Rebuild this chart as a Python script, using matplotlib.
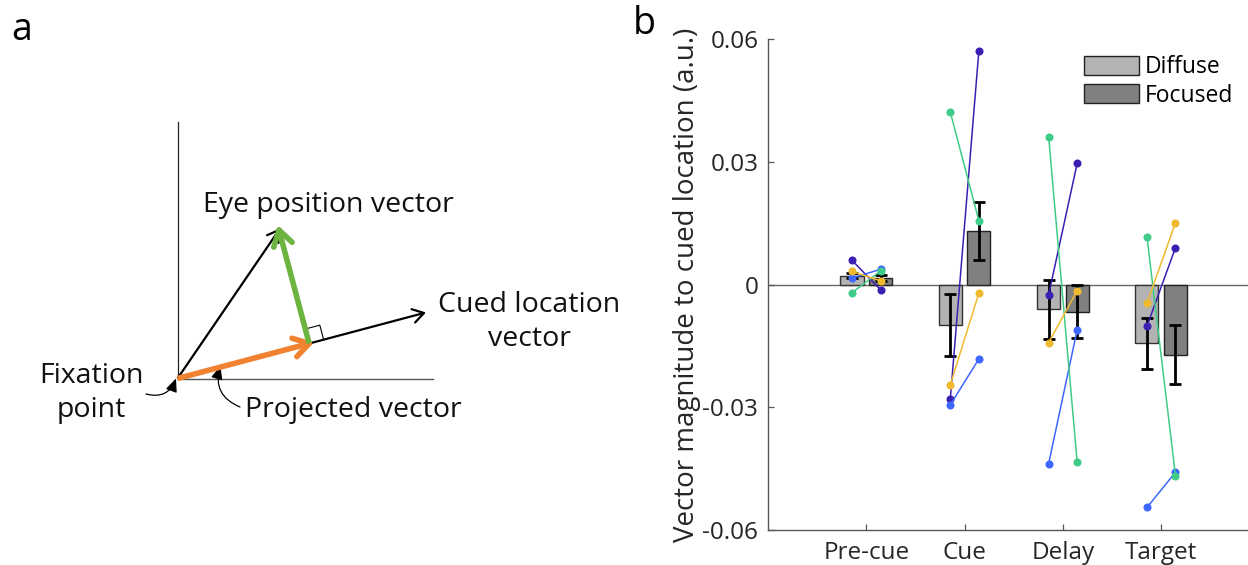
import numpy as np
import matplotlib
matplotlib.use("Agg")
import matplotlib.pyplot as plt
from matplotlib.patches import Patch

plt.rcParams['font.family'] = ['Open Sans', 'DejaVu Sans']
plt.rcParams['axes.unicode_minus'] = False

# ---------------- data ----------------
epochs = ["Pre-cue", "Cue", "Delay", "Target"]
conditions = ["Diffuse", "Focused"]

# per-subject vector magnitude (a.u.), one list per subject, epochs in order
subj_names = ["S1", "S2", "S3", "S4"]
subj_colors = ["#3b1fb3", "#3d67ff", "#3fcb88", "#f0ba2e"]
subj_diffuse = [
    [0.0059, -0.0279, -0.0025, -0.0102],
    [0.0016, -0.0294, -0.0438, -0.0545],
    [-0.0020, 0.0421, 0.0361, 0.0117],
    [0.0032, -0.0245, -0.0142, -0.0046],
]
subj_focused = [
    [-0.0013, 0.0571, 0.0296, 0.0090],
    [0.0037, -0.0182, -0.0111, -0.0459],
    [0.0033, 0.0156, -0.0434, -0.0467],
    [0.0009, -0.0021, -0.0015, 0.0151],
]
err_diffuse = [0.0007, 0.0075, 0.0072, 0.0062]
err_focused = [0.0007, 0.0070, 0.0065, 0.0073]

yticks = [-0.06, -0.03, 0, 0.03, 0.06]
ytick_labels = ["-0.06", "-0.03", "0", "0.03", "0.06"]

# schematic geometry (figure pixels, y downward)
origin_pt = (177.5, 378.5)
eye_tip = (279.0, 230.0)
cued_tip = (424.0, 313.0)
vert_axis_top = (177.5, 122.0)
horiz_axis_end = (433.0, 378.5)

W, H = 1248, 565
fig = plt.figure(figsize=(W / 100, H / 100), dpi=100)

# ---------------- panel a: projection schematic ----------------
ax0 = fig.add_axes([0, 0, 1, 1], zorder=0)
ax0.set_xlim(0, W)
ax0.set_ylim(H, 0)
ax0.axis("off")

O = np.array(origin_pt)
E = np.array(eye_tip)
C = np.array(cued_tip)
u = (C - O) / np.linalg.norm(C - O)
F = O + np.dot(E - O, u) * u          # foot of the perpendicular
n = (E - F) / np.linalg.norm(E - F)


def open_arrow(ax, start, end, color, lw, head_len, half_angle_deg=32, z=3):
    start = np.asarray(start)
    end = np.asarray(end)
    ax.plot([start[0], end[0]], [start[1], end[1]], color=color, lw=lw,
            solid_capstyle="butt", zorder=z)
    d = (end - start) / np.linalg.norm(end - start)
    a = np.deg2rad(half_angle_deg)
    for s in (1, -1):
        rot = np.array([[np.cos(s * a), -np.sin(s * a)],
                        [np.sin(s * a), np.cos(s * a)]])
        back = end - head_len * rot @ d
        ax.plot([end[0], back[0]], [end[1], back[1]], color=color, lw=lw,
                solid_capstyle="round", zorder=z)


# reference axes of the schematic
ax0.plot([vert_axis_top[0], O[0]], [vert_axis_top[1], O[1]], color="#222222", lw=0.9)
ax0.plot([O[0], horiz_axis_end[0]], [O[1], horiz_axis_end[1]], color="#555555", lw=1.0)

# eye position and cued location vectors
open_arrow(ax0, O, E, "black", 1.6, 13)
open_arrow(ax0, O, C, "black", 1.6, 13)
# projected vector and residual
open_arrow(ax0, O, F, "#f08232", 4.0, 18, z=4)
open_arrow(ax0, F, E, "#6db33f", 4.0, 18, z=4)

# right-angle marker
s = 15
sq = np.array([F + s * u, F + s * u + s * n, F + s * n])
ax0.plot(sq[:, 0], sq[:, 1], color="black", lw=0.8, zorder=3)

txt_kw = dict(fontsize=20.5, color="#111111")
ax0.text(203, 205, "Eye position vector", ha="left", va="center", **txt_kw)
ax0.text(529, 322, "Cued location\nvector", ha="center", va="center",
         linespacing=1.25, **txt_kw)
ax0.text(91, 393, "Fixation\npoint", ha="center", va="center",
         linespacing=1.25, **txt_kw)
ax0.text(245, 410, "Projected vector", ha="left", va="center", **txt_kw)

ax0.annotate("", xy=(176, 378.5), xytext=(146, 394),
             arrowprops=dict(arrowstyle="-|>,head_length=0.8,head_width=0.35",
                             color="black", lw=0.9,
                             connectionstyle="arc3,rad=0.45", shrinkA=0, shrinkB=0))
ax0.annotate("", xy=(220.5, 366), xytext=(240, 407),
             arrowprops=dict(arrowstyle="-|>,head_length=0.8,head_width=0.35",
                             color="black", lw=0.9,
                             connectionstyle="arc3,rad=-0.45", shrinkA=0, shrinkB=0))

ax0.text(22, 30, "a", fontsize=27, ha="center", va="center", color="black")
ax0.text(644, 24, "b", fontsize=27, ha="center", va="center", color="black")

# ---------------- panel b: bar chart ----------------
left_px, right_px = 768, 768 + 5 * 98.3
bottom_px, top_px = 530, 39
ax = fig.add_axes([left_px / W, (H - bottom_px) / H,
                   (right_px - left_px) / W, (bottom_px - top_px) / H], zorder=1)
ax.patch.set_alpha(0)

x = np.arange(1, len(epochs) + 1)
offset, width = 0.145, 0.235
mean_d = np.mean(subj_diffuse, axis=0)
mean_f = np.mean(subj_focused, axis=0)

ax.axhline(0, color="#666666", lw=1.0, zorder=1)
ax.bar(x - offset, mean_d, width, color="#b3b3b3", edgecolor="#333333",
       linewidth=1.0, zorder=2)
ax.bar(x + offset, mean_f, width, color="#808080", edgecolor="#222222",
       linewidth=1.0, zorder=2)
ax.errorbar(x - offset, mean_d, yerr=err_diffuse, fmt="none", ecolor="black",
            elinewidth=2.0, capsize=4.5, capthick=2.0, zorder=3)
ax.errorbar(x + offset, mean_f, yerr=err_focused, fmt="none", ecolor="black",
            elinewidth=2.0, capsize=4.5, capthick=2.0, zorder=3)

for name, col, dvals, fvals in zip(subj_names, subj_colors, subj_diffuse, subj_focused):
    for i in range(len(epochs)):
        ax.plot([x[i] - offset, x[i] + offset], [dvals[i], fvals[i]], color=col,
                lw=1.1, marker="o", markersize=5.8, markeredgewidth=0, zorder=4)

ax.set_xlim(0, 5)
ax.set_ylim(-0.06, 0.06)
ax.set_xticks(x)
ax.set_xticklabels(epochs)
ax.set_yticks(yticks)
ax.set_yticklabels(ytick_labels)
for side in ("top", "right"):
    ax.spines[side].set_visible(False)
for side in ("left", "bottom"):
    ax.spines[side].set_color("#555555")
    ax.spines[side].set_linewidth(1.0)
ax.tick_params(axis="both", direction="in", length=4, width=0.9, color="#555555",
               labelsize=17.5, labelcolor="#262626")
ax.tick_params(axis="y", pad=7)
ax.tick_params(axis="x", pad=8)
ax.set_ylabel("Vector magnitude to cued location (a.u.)", fontsize=20,
              color="#262626", labelpad=1)

handles = [Patch(facecolor="#b3b3b3", edgecolor="#222222", linewidth=1.0),
           Patch(facecolor="#808080", edgecolor="#222222", linewidth=1.0)]
fig.legend(handles, conditions, loc="upper left",
           bbox_to_anchor=(1084 / W, (H - 55) / H), frameon=False, fontsize=16.5,
           handlelength=2.4, handleheight=0.9, handletextpad=0.25,
           labelspacing=0.2, borderpad=0, borderaxespad=0)

fig.savefig("out.png", dpi=100)
